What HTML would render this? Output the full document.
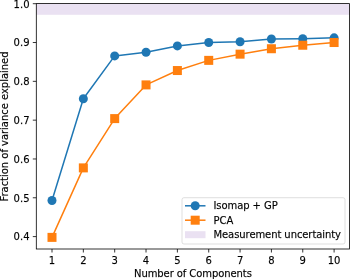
<!DOCTYPE html>
<html><head><meta charset="utf-8"><title>Variance explained</title>
<style>html,body{margin:0;padding:0;background:#fff}body{width:350px;height:279px;overflow:hidden}text{stroke:#000;stroke-width:.25px;stroke-opacity:.6}</style></head>
<body>
<svg width="350" height="279" viewBox="0 0 350 279" style="display:block;font-family:'DejaVu Sans','Liberation Sans',sans-serif;font-size:10px" fill="#000">
<rect width="350" height="279" fill="#fff"/>
<rect x="36.3" y="3.6" width="313.09999999999997" height="11.20" fill="#eae1f2"/>
<line x1="52.00" x2="52.00" y1="249.0" y2="252.5" stroke="#000" stroke-width="0.8"/>
<text x="52.00" y="263.8" text-anchor="middle">1</text>
<line x1="83.34" x2="83.34" y1="249.0" y2="252.5" stroke="#000" stroke-width="0.8"/>
<text x="83.34" y="263.8" text-anchor="middle">2</text>
<line x1="114.69" x2="114.69" y1="249.0" y2="252.5" stroke="#000" stroke-width="0.8"/>
<text x="114.69" y="263.8" text-anchor="middle">3</text>
<line x1="146.03" x2="146.03" y1="249.0" y2="252.5" stroke="#000" stroke-width="0.8"/>
<text x="146.03" y="263.8" text-anchor="middle">4</text>
<line x1="177.38" x2="177.38" y1="249.0" y2="252.5" stroke="#000" stroke-width="0.8"/>
<text x="177.38" y="263.8" text-anchor="middle">5</text>
<line x1="208.72" x2="208.72" y1="249.0" y2="252.5" stroke="#000" stroke-width="0.8"/>
<text x="208.72" y="263.8" text-anchor="middle">6</text>
<line x1="240.07" x2="240.07" y1="249.0" y2="252.5" stroke="#000" stroke-width="0.8"/>
<text x="240.07" y="263.8" text-anchor="middle">7</text>
<line x1="271.41" x2="271.41" y1="249.0" y2="252.5" stroke="#000" stroke-width="0.8"/>
<text x="271.41" y="263.8" text-anchor="middle">8</text>
<line x1="302.76" x2="302.76" y1="249.0" y2="252.5" stroke="#000" stroke-width="0.8"/>
<text x="302.76" y="263.8" text-anchor="middle">9</text>
<line x1="334.10" x2="334.10" y1="249.0" y2="252.5" stroke="#000" stroke-width="0.8"/>
<text x="334.10" y="263.8" text-anchor="middle">10</text>
<line x1="32.8" x2="36.3" y1="236.60" y2="236.60" stroke="#000" stroke-width="0.8"/>
<text x="29.5" y="240.40" text-anchor="end">0.4</text>
<line x1="32.8" x2="36.3" y1="197.78" y2="197.78" stroke="#000" stroke-width="0.8"/>
<text x="29.5" y="201.58" text-anchor="end">0.5</text>
<line x1="32.8" x2="36.3" y1="158.97" y2="158.97" stroke="#000" stroke-width="0.8"/>
<text x="29.5" y="162.77" text-anchor="end">0.6</text>
<line x1="32.8" x2="36.3" y1="120.15" y2="120.15" stroke="#000" stroke-width="0.8"/>
<text x="29.5" y="123.95" text-anchor="end">0.7</text>
<line x1="32.8" x2="36.3" y1="81.33" y2="81.33" stroke="#000" stroke-width="0.8"/>
<text x="29.5" y="85.13" text-anchor="end">0.8</text>
<line x1="32.8" x2="36.3" y1="42.52" y2="42.52" stroke="#000" stroke-width="0.8"/>
<text x="29.5" y="46.32" text-anchor="end">0.9</text>
<line x1="32.8" x2="36.3" y1="3.70" y2="3.70" stroke="#000" stroke-width="0.8"/>
<text x="29.5" y="7.50" text-anchor="end">1.0</text>
<polyline points="52.00,200.50 83.34,98.80 114.69,55.91 146.03,52.22 177.38,45.93 208.72,42.52 240.07,41.74 271.41,39.02 302.76,38.63 334.10,37.86" fill="none" stroke="#1f77b4" stroke-width="1.5" stroke-linejoin="round"/>
<circle cx="52.00" cy="200.50" r="4.5" fill="#1f77b4"/>
<circle cx="83.34" cy="98.80" r="4.5" fill="#1f77b4"/>
<circle cx="114.69" cy="55.91" r="4.5" fill="#1f77b4"/>
<circle cx="146.03" cy="52.22" r="4.5" fill="#1f77b4"/>
<circle cx="177.38" cy="45.93" r="4.5" fill="#1f77b4"/>
<circle cx="208.72" cy="42.52" r="4.5" fill="#1f77b4"/>
<circle cx="240.07" cy="41.74" r="4.5" fill="#1f77b4"/>
<circle cx="271.41" cy="39.02" r="4.5" fill="#1f77b4"/>
<circle cx="302.76" cy="38.63" r="4.5" fill="#1f77b4"/>
<circle cx="334.10" cy="37.86" r="4.5" fill="#1f77b4"/>
<polyline points="52.00,237.38 83.34,167.89 114.69,118.60 146.03,84.90 177.38,70.54 208.72,60.37 240.07,54.16 271.41,48.73 302.76,45.23 334.10,42.52" fill="none" stroke="#ff7f0e" stroke-width="1.5" stroke-linejoin="round"/>
<rect x="47.50" y="232.88" width="9" height="9" fill="#ff7f0e"/>
<rect x="78.84" y="163.39" width="9" height="9" fill="#ff7f0e"/>
<rect x="110.19" y="114.10" width="9" height="9" fill="#ff7f0e"/>
<rect x="141.53" y="80.40" width="9" height="9" fill="#ff7f0e"/>
<rect x="172.88" y="66.04" width="9" height="9" fill="#ff7f0e"/>
<rect x="204.22" y="55.87" width="9" height="9" fill="#ff7f0e"/>
<rect x="235.57" y="49.66" width="9" height="9" fill="#ff7f0e"/>
<rect x="266.91" y="44.23" width="9" height="9" fill="#ff7f0e"/>
<rect x="298.26" y="40.73" width="9" height="9" fill="#ff7f0e"/>
<rect x="329.60" y="38.02" width="9" height="9" fill="#ff7f0e"/>
<rect x="36.3" y="3.6" width="313.09999999999997" height="245.4" fill="none" stroke="#000" stroke-width="0.8"/>
<text x="192.95" y="277.3" text-anchor="middle" textLength="117.8">Number of Components</text>
<text transform="translate(7.9,126.5) rotate(-90)" text-anchor="middle" textLength="150.1">Fraction of variance explained</text>
<rect x="182" y="197.7" width="163" height="46.3" rx="2" fill="#fff" fill-opacity="0.8" stroke="#ccc" stroke-opacity="0.8" stroke-width="0.8"/>
<line x1="185" x2="205.5" y1="205.8" y2="205.8" stroke="#1f77b4" stroke-width="1.5"/>
<circle cx="195.2" cy="205.8" r="4.5" fill="#1f77b4"/>
<text x="213.5" y="209.2" textLength="64.2">Isomap + GP</text>
<line x1="185" x2="205.5" y1="220.2" y2="220.2" stroke="#ff7f0e" stroke-width="1.5"/>
<rect x="190.7" y="215.7" width="9" height="9" fill="#ff7f0e"/>
<text x="213.5" y="223.6">PCA</text>
<rect x="185" y="231.2" width="20.5" height="7" fill="#eae1f2"/>
<text x="213.5" y="238.2" textLength="127.5">Measurement uncertainty</text>
</svg>
</body></html>
